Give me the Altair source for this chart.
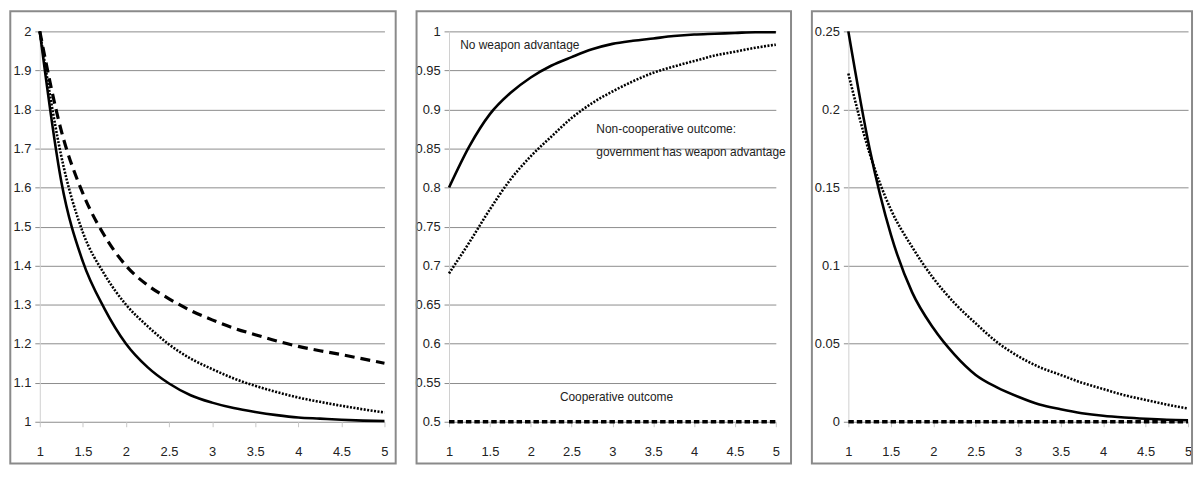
import altair as alt
import pandas as pd

# ---------------- data ----------------
XS = [1, 1.25, 1.5, 1.75, 2, 2.25, 2.5, 2.75, 3, 3.25, 3.5, 3.75, 4, 4.25, 4.5, 4.75, 5]

P1_SOLID = [2.0, 1.615, 1.41, 1.29, 1.20, 1.14, 1.098, 1.068, 1.049, 1.035, 1.025, 1.017, 1.011, 1.008, 1.005, 1.003, 1.002]
P1_DOTTED = [2.0, 1.68, 1.485, 1.378, 1.30, 1.245, 1.198, 1.162, 1.135, 1.111, 1.092, 1.076, 1.062, 1.051, 1.041, 1.032, 1.024]
P1_DASHED = [2.0, 1.745, 1.585, 1.477, 1.40, 1.35, 1.315, 1.285, 1.261, 1.24, 1.223, 1.207, 1.193, 1.182, 1.172, 1.161, 1.150]

P2_SOLID = [0.80, 0.853, 0.894, 0.921, 0.941, 0.956, 0.967, 0.977, 0.984, 0.988, 0.991, 0.994, 0.996, 0.997, 0.998, 0.999, 0.999]
P2_DOTTED = [0.69, 0.73, 0.772, 0.81, 0.84, 0.865, 0.889, 0.908, 0.923, 0.936, 0.947, 0.955, 0.962, 0.969, 0.974, 0.979, 0.983]
P2_DASHED_X = [1, 5]
P2_DASHED = [0.5, 0.5]

P3_SOLID = [0.25, 0.175, 0.12, 0.083, 0.06, 0.043, 0.030, 0.022, 0.016, 0.011, 0.008, 0.0055, 0.0038, 0.0027, 0.0019, 0.0013, 0.001]
P3_DOTTED = [0.223, 0.172, 0.136, 0.112, 0.092, 0.076, 0.063, 0.051, 0.042, 0.035, 0.030, 0.025, 0.021, 0.017, 0.014, 0.011, 0.0085]
P3_DASHED_X = [1, 5]
P3_DASHED = [0.0, 0.0]

X_TICKS = [1, 1.5, 2, 2.5, 3, 3.5, 4, 4.5, 5]
P1_TICKS = [1, 1.1, 1.2, 1.3, 1.4, 1.5, 1.6, 1.7, 1.8, 1.9, 2]
P2_TICKS = [0.5, 0.55, 0.6, 0.65, 0.7, 0.75, 0.8, 0.85, 0.9, 0.95, 1]
P3_TICKS = [0, 0.05, 0.1, 0.15, 0.2, 0.25]

ANN_TEXT = ["No weapon advantage", "Non-cooperative outcome:",
            "government has weapon advantage", "Cooperative outcome"]
ANN_X = [1.137, 2.803, 2.803, 2.357]
ANN_Y = [0.978, 0.870, 0.841, 0.527]

# ---------------- styling ----------------
FONT = "Liberation Sans"
H = 393
W1, W2, W3 = 347, 329, 342
GRID = "#8c8c8c"
BORDER = "#8a8a8a"
TOP, BOTTOM = 20.3, 42


def xenc():
    return alt.X("x:Q", scale=alt.Scale(domain=[1, 5], nice=False, zero=False),
                 axis=alt.Axis(values=X_TICKS, format="~g", grid=False, domain=False,
                               ticks=True, tickColor="#c8c8c8", tickSize=5,
                               labelPadding=19, labelFlush=False, title=None))


def yenc(dom, ticks):
    return alt.Y("y:Q", scale=alt.Scale(domain=dom, nice=False, zero=False),
                 axis=alt.Axis(values=ticks, format="~g", grid=True, gridColor=GRID,
                               gridWidth=1, domain=True, domainColor="#d0d0d0",
                               ticks=True, tickColor=GRID, tickSize=5,
                               labelPadding=4, title=None))


def series(xs, ys, style, dom, ticks):
    df = pd.DataFrame({"x": xs, "y": ys})
    if style == "solid":
        mk = alt.Chart(df).mark_line(color="black", strokeWidth=2.6, interpolate="monotone")
    elif style == "dotted":
        mk = alt.Chart(df).mark_line(color="black", strokeWidth=2.6, strokeDash=[2, 1.5],
                                     interpolate="monotone")
    elif style == "dashed_long":
        mk = alt.Chart(df).mark_line(color="black", strokeWidth=3.2, strokeDash=[10, 6],
                                     interpolate="monotone")
    else:
        mk = alt.Chart(df).mark_line(color="black", strokeWidth=3.6, strokeDash=[5.5, 3])
    return mk.encode(x=xenc(), y=yenc(dom, ticks))


def border(w, left, right):
    return alt.Chart(pd.DataFrame({"k": [0]})).mark_rect(
        filled=False, stroke=BORDER, strokeWidth=2
    ).encode(x=alt.value(-left), x2=alt.value(w + right),
             y=alt.value(-TOP), y2=alt.value(H + BOTTOM))


dom1, dom2, dom3 = [1, 2], [0.5, 1], [0, 0.25]

panel1 = alt.layer(
    border(W1, 29.7, 11.3),
    series(XS, P1_DASHED, "dashed_long", dom1, P1_TICKS),
    series(XS, P1_DOTTED, "dotted", dom1, P1_TICKS),
    series(XS, P1_SOLID, "solid", dom1, P1_TICKS),
).properties(width=W1, height=H)

ann = pd.DataFrame({"x": ANN_X, "y": ANN_Y, "t": ANN_TEXT})
texts = alt.Chart(ann).mark_text(
    align="left", baseline="alphabetic", font=FONT, fontSize=12, color="#222"
).encode(x=xenc(), y=yenc(dom2, P2_TICKS), text="t:N")

panel2 = alt.layer(
    border(W2, 32.7, 15.3),
    series(P2_DASHED_X, P2_DASHED, "dashed_flat", dom2, P2_TICKS),
    series(XS, P2_DOTTED, "dotted", dom2, P2_TICKS),
    series(XS, P2_SOLID, "solid", dom2, P2_TICKS),
    texts,
).properties(width=W2, height=H)

panel3 = alt.layer(
    border(W3, 36.7, 4),
    series(P3_DASHED_X, P3_DASHED, "dashed_flat", dom3, P3_TICKS),
    series(XS, P3_DOTTED, "dotted", dom3, P3_TICKS),
    series(XS, P3_SOLID, "solid", dom3, P3_TICKS),
).properties(width=W3, height=H)

chart = alt.hconcat(panel1, panel2, panel3, spacing=17).properties(
    padding=0, background="white"
).configure_view(stroke="transparent").configure_axis(
    labelFont=FONT, labelFontSize=13, labelColor="#222"
)

chart.save("out.html", embed_options={"renderer": "svg", "actions": False})
